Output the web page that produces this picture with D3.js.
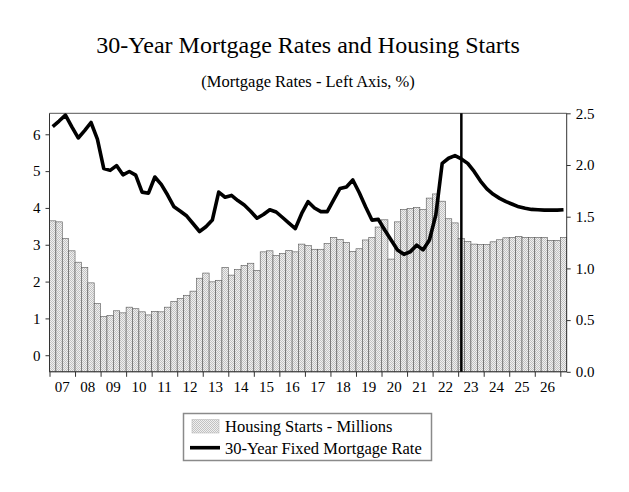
<!DOCTYPE html>
<html>
<head>
<meta charset="utf-8">
<script src="https://cdn.jsdelivr.net/npm/d3@7/dist/d3.min.js"></script>
<style>
  html, body { margin: 0; padding: 0; background: #fff; }
  svg { display: block; font-family: "Liberation Serif", "Times New Roman", serif; }
  .axis path, .axis line { stroke: #333; }
</style>
</head>
<body>
<svg id="chart" width="629" height="492"></svg>
<script>
/* 30-year mortgage rate (left axis) vs housing starts (right axis), quarterly 2007Q1-2027Q1.
 * Bars = housing starts, thick line = mortgage rate, vertical rule = forecast start.
 */
"use strict";

const yearLabels = ["07", "08", "09", "10", "11", "12", "13", "14", "15", "16",
  "17", "18", "19", "20", "21", "22", "23", "24", "25", "26"];

// Housing starts, millions (quarterly, from 2007Q1)
const housingStarts = [
  1.46, 1.45, 1.29, 1.17, 1.06, 1.01, 0.86, 0.66,
  0.535, 0.545, 0.59, 0.57, 0.625, 0.61, 0.58, 0.55,
  0.585, 0.58, 0.625, 0.68, 0.71, 0.74, 0.78, 0.905,
  0.955, 0.87, 0.885, 1.01, 0.935, 0.99, 1.03, 1.05,
  0.98, 1.16, 1.17, 1.125, 1.145, 1.175, 1.16, 1.235,
  1.22, 1.185, 1.185, 1.24, 1.30, 1.28, 1.25, 1.165,
  1.19, 1.275, 1.30, 1.40, 1.47, 1.09, 1.45, 1.57,
  1.58, 1.59, 1.57, 1.68, 1.72, 1.65, 1.48, 1.44,
  1.29, 1.26, 1.235, 1.23, 1.23, 1.257, 1.277, 1.296,
  1.30, 1.31, 1.30, 1.30, 1.30, 1.30, 1.27, 1.27,
  1.30
];

// 30-year fixed mortgage rate, % (quarterly, from 2007Q1)
const mortgageRate = [
  6.21, 6.36, 6.52, 6.20, 5.90, 6.10, 6.32, 5.87,
  5.07, 5.02, 5.15, 4.90, 4.99, 4.89, 4.43, 4.40,
  4.84, 4.64, 4.35, 4.03, 3.91, 3.78, 3.57, 3.36,
  3.49, 3.67, 4.43, 4.29, 4.34, 4.20, 4.08, 3.91,
  3.72, 3.82, 3.95, 3.89, 3.74, 3.59, 3.44, 3.85,
  4.17, 4.00, 3.90, 3.90, 4.22, 4.53, 4.57, 4.76,
  4.42, 4.03, 3.67, 3.69, 3.40, 3.13, 2.86, 2.74,
  2.81, 2.99, 2.86, 3.13, 3.81, 5.21, 5.35, 5.42,
  5.33, 5.21, 4.99, 4.73, 4.52, 4.37, 4.26, 4.17,
  4.10, 4.03, 3.99, 3.96, 3.95, 3.94, 3.94, 3.94,
  3.95
];

const leftTicks = [0, 1, 2, 3, 4, 5, 6];
const rightTicks = [0, 0.5, 1.0, 1.5, 2.0, 2.5];
const forecastQuarter = 64; // 2023Q1

const legendItems = ["Housing Starts - Millions", "30-Year Fixed Mortgage Rate"];

(function () {
  const L = 49.5, R = 566.7, T = 113.3, B = 371.8;
  const FONT = "Liberation Serif, Times New Roman, serif";
  const svg = d3.select("#chart");

  const defs = svg.append("defs");
  const pat = defs.append("pattern").attr("id", "hatch")
    .attr("width", 2).attr("height", 2).attr("patternUnits", "userSpaceOnUse");
  pat.append("rect").attr("width", 2).attr("height", 2).attr("fill", "#f0f0f0");
  pat.append("rect").attr("width", 1).attr("height", 1).attr("fill", "#c2c2c2");
  pat.append("rect").attr("x", 1).attr("y", 1).attr("width", 1).attr("height", 1).attr("fill", "#c2c2c2");

  const n = housingStarts.length;
  const x = d3.scaleLinear().domain([0, n]).range([L, R]);
  const yL = d3.scaleLinear().domain([-0.45, 6.57]).range([B, T]);
  const yR = d3.scaleLinear().domain([0, 2.5]).range([B, T]);

  // titles
  svg.append("text").attr("x", (L + R) / 2).attr("y", 53).attr("text-anchor", "middle")
    .attr("font-family", FONT).attr("font-size", 24).text("30-Year Mortgage Rates and Housing Starts");
  svg.append("text").attr("x", (L + R) / 2).attr("y", 87).attr("text-anchor", "middle")
    .attr("font-family", FONT).attr("font-size", 16.5).text("(Mortgage Rates - Left Axis, %)");

  // bars
  svg.append("g").selectAll("rect")
    .data(housingStarts).join("rect")
    .attr("x", (d, i) => x(i)).attr("width", (d, i) => x(i + 1) - x(i))
    .attr("y", (d) => yR(d)).attr("height", (d) => yR(0) - yR(d))
    .attr("fill", "url(#hatch)").attr("stroke", "#555").attr("stroke-width", 0.6);

  // frame top
  svg.append("line").attr("x1", L).attr("x2", R).attr("y1", T).attr("y2", T)
    .attr("stroke", "#555").attr("stroke-width", 1);

  // axes
  const axL = svg.append("g").attr("class", "axis").attr("transform", `translate(${L},0)`)
    .call(d3.axisLeft(yL).tickValues(leftTicks).tickSize(4).tickSizeOuter(0).tickPadding(5).tickFormat(d3.format("d")));
  const axR = svg.append("g").attr("class", "axis").attr("transform", `translate(${R},0)`)
    .call(d3.axisRight(yR).tickValues(rightTicks).tickSize(4).tickSizeOuter(0).tickPadding(5).tickFormat(d3.format(".1f")));
  const axB = svg.append("g").attr("class", "axis").attr("transform", `translate(0,${B})`)
    .call(d3.axisBottom(x).tickValues(d3.range(0, n, 4)).tickSize(5).tickSizeOuter(0).tickFormat(""));
  axB.select(".domain").attr("d", `M${L},0H${R}`);
  const axLab = svg.append("g").attr("class", "axis").attr("transform", `translate(0,${B})`);
  axLab.selectAll("text").data(yearLabels).join("text")
    .attr("x", (d, i) => x(i * 4 + 2)).attr("y", 20).attr("text-anchor", "middle").text((d) => d);
  [axL, axR].forEach((a) => a.select(".domain").attr("d", `M0,${T}V${B}`));
  [axL, axR, axB, axLab].forEach((a) => a.attr("font-family", FONT).attr("font-size", 15)
    .selectAll("text").attr("font-family", FONT).attr("font-size", 15).attr("fill", "#000"));

  // forecast rule
  svg.append("line").attr("x1", x(forecastQuarter + 0.5)).attr("x2", x(forecastQuarter + 0.5))
    .attr("y1", T).attr("y2", B).attr("stroke", "#000").attr("stroke-width", 2.5);

  // mortgage line
  const line = d3.line().x((d, i) => x(i + 0.5)).y((d) => yL(d));
  svg.append("path").datum(mortgageRate).attr("d", line)
    .attr("fill", "none").attr("stroke", "#000").attr("stroke-width", 3.6).attr("stroke-linejoin", "round");

  // legend
  const lg = svg.append("g");
  lg.append("rect").attr("x", 183.5).attr("y", 413.5).attr("width", 248).attr("height", 47)
    .attr("fill", "#fff").attr("stroke", "#8a8a8a").attr("stroke-width", 1.5);
  lg.append("rect").attr("x", 192).attr("y", 419.5).attr("width", 27).attr("height", 13.5)
    .attr("fill", "url(#hatch)").attr("stroke", "#bbb").attr("stroke-width", 0.6);
  lg.append("line").attr("x1", 190).attr("x2", 220).attr("y1", 447.7).attr("y2", 447.7)
    .attr("stroke", "#000").attr("stroke-width", 3.6);
  lg.selectAll("text.lg").data(legendItems).join("text").attr("class", "lg")
    .attr("x", 225).attr("y", (d, i) => 432 + i * 21.5)
    .attr("font-family", FONT).attr("font-size", 16.5).text((d) => d);
})();
</script>
</body>
</html>
